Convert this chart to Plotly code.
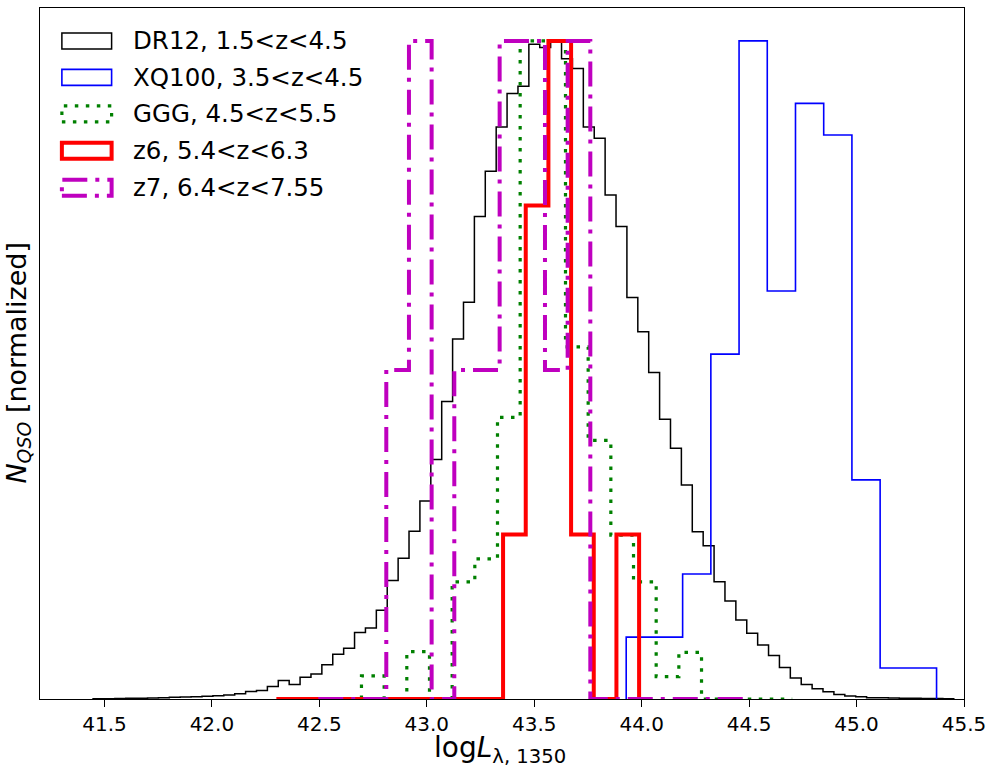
import numpy as np
import plotly.graph_objects as go

# ---------------- data (normalized histograms) ----------------
dr12_label = "DR12, 1.5<z<4.5"
dr12_bin_start = 41.447
dr12_bin_width = 0.0507
dr12_heights = [
    0.0003, 0.0005, 0.0008, 0.001, 0.0012, 0.0015, 0.002, 0.0025, 0.003, 0.0035,
    0.004, 0.005, 0.006, 0.008, 0.0115, 0.013, 0.019, 0.028, 0.022, 0.033,
    0.038, 0.052, 0.068, 0.077, 0.101, 0.108, 0.135, 0.180, 0.214, 0.255,
    0.301, 0.364, 0.452, 0.547, 0.603, 0.733, 0.802, 0.869, 0.920, 0.931,
    0.995, 0.990, 1.0, 0.973, 0.958, 0.869, 0.852, 0.766, 0.718, 0.610,
    0.558, 0.496, 0.425, 0.381, 0.325, 0.254, 0.233, 0.178, 0.149, 0.120,
    0.100, 0.082, 0.066, 0.048, 0.032, 0.022, 0.0155, 0.011, 0.007, 0.0045,
    0.0035, 0.002, 0.002, 0.0015, 0.001, 0.001, 0.0008, 0.0006, 0.0005,
]

xq100_label = "XQ100, 3.5<z<4.5"
xq100_bin_start = 43.928
xq100_bin_width = 0.1313
xq100_heights = [0.094, 0.094, 0.19, 0.524, 1.0, 0.62, 0.905, 0.857, 0.333, 0.047, 0.047]

ggg_label = "GGG, 4.5<z<5.5"
ggg_bin_start = 42.696
ggg_bin_width = 0.1055
ggg_heights = [0.035, 0.0, 0.072, 0.0, 0.178, 0.213, 0.428, 1.0, 1.0, 0.535,
               0.393, 0.249, 0.178, 0.034, 0.071, 0.0, 0.0, 0.0, 0.0]

z6_label = "z6, 5.4<z<6.3"
z6_bin_start = 42.30
z6_bin_width = 0.1055
z6_heights = [0.0, 0.0, 0.0, 0.0, 0.0, 0.0, 0.0, 0.0, 0.0, 0.0,
              0.25, 0.75, 1.0, 0.25, 0.0, 0.25]

z7_label = "z7, 6.4<z<7.55"
z7_bin_start = 42.495
z7_bin_width = 0.1055
z7_heights = [0.0, 0.0, 0.0, 0.5, 1.0, 0.0, 0.5, 0.5, 1.0, 1.0,
              0.5, 1.0, 0.0, 0.0, 0.0, 0.0, 0.0, 0.0, 0.0]

x_ticks = [41.5, 42.0, 42.5, 43.0, 43.5, 44.0, 44.5, 45.0, 45.5]

# ---------------- styles ----------------
FONT = "DejaVu Sans"
styles = [
    (dr12_label, dr12_bin_start, dr12_bin_width, dr12_heights, dict(color="black", width=1.5)),
    (xq100_label, xq100_bin_start, xq100_bin_width, xq100_heights, dict(color="#0000ff", width=1.6)),
    (ggg_label, ggg_bin_start, ggg_bin_width, ggg_heights, dict(color="#008000", width=3.2, dash="3.5px,7.5px")),
    (z6_label, z6_bin_start, z6_bin_width, z6_heights, dict(color="#ff0000", width=4)),
    (z7_label, z7_bin_start, z7_bin_width, z7_heights, dict(color="#bf00bf", width=4, dash="25px,8px,4px,8px")),
]


def step_xy(start, width, heights):
    h = np.asarray(heights, dtype=float)
    edges = start + width * np.arange(len(h) + 1)
    x = np.concatenate([[edges[0]], edges])
    y = np.concatenate([[0.0], h, [0.0]])
    return x, y


fig = go.Figure()
for name, start, width, heights, line in styles:
    x, y = step_xy(start, width, heights)
    fig.add_trace(go.Scatter(x=x, y=y, mode="lines", line_shape="hv",
                             line=line, name=name, showlegend=False,
                             hoverinfo="skip"))

# ---------------- layout ----------------
W, H = 993, 775
L, R, T, B = 40, 24, 7, 76
pw, ph = W - L - R, H - T - B


def px_to_paper(px, py):
    return (px - L) / pw, (H - B - py) / ph


# legend drawn as outlined boxes like the original
row_centers = [40, 76.5, 113, 150, 187]
for (name, _, _, _, line), cy in zip(styles, row_centers):
    x0, y0 = px_to_paper(62, cy + 8)
    x1, y1 = px_to_paper(112, cy - 8)
    fig.add_shape(type="rect", xref="paper", yref="paper", x0=x0, x1=x1, y0=y0, y1=y1,
                  line=line, fillcolor="rgba(0,0,0,0)", layer="above")
    tx, ty = px_to_paper(131, cy)
    fig.add_annotation(xref="paper", yref="paper", x=tx, y=ty, text=name,
                       showarrow=False, xanchor="left", yanchor="middle",
                       font=dict(family=FONT, size=24.5, color="black"))

# axis labels
ax, ay = px_to_paper(18, 362)
fig.add_annotation(xref="paper", yref="paper", x=ax, y=ay, textangle=-90,
                   text="<i>N</i><sub><i>QSO</i></sub> [normalized]", showarrow=False,
                   xanchor="center", yanchor="middle",
                   font=dict(family=FONT, size=27, color="black"))
bx, by = px_to_paper(502, 750)
fig.add_annotation(xref="paper", yref="paper", x=bx, y=by,
                   text="log<i>L</i><sub>λ, 1350</sub>", showarrow=False,
                   xanchor="center", yanchor="middle",
                   font=dict(family=FONT, size=28, color="black"))

fig.update_layout(
    width=W, height=H,
    margin=dict(l=L, r=R, t=T, b=B),
    paper_bgcolor="white", plot_bgcolor="white",
    showlegend=False,
    font=dict(family=FONT, color="black"),
)
fig.update_xaxes(range=[41.2, 45.5], tickvals=x_ticks,
                 ticktext=[f"{v:.1f}" for v in x_ticks],
                 ticks="outside", ticklen=7, tickwidth=1.3, tickcolor="black",
                 tickfont=dict(family=FONT, size=20, color="black"),
                 showline=True, linecolor="black", linewidth=1.3, mirror=True,
                 showgrid=False, zeroline=False)
fig.update_yaxes(range=[0, 1.05], showticklabels=False, ticks="",
                 showline=True, linecolor="black", linewidth=1.3, mirror=True,
                 showgrid=False, zeroline=False)

fig.write_html("out.html")
